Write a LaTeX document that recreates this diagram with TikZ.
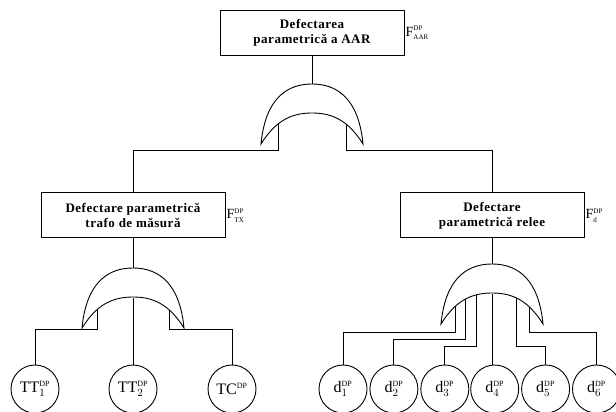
\documentclass[tikz,border=0pt]{standalone}
\usepackage{fontspec}
\setmainfont{Liberation Serif}
\usepackage{tikz}
\usetikzlibrary{positioning}
\pgfdeclarelayer{background}
\pgfsetlayers{background,main}

\tikzset{
  orgate/.pic={
    \draw[gateline] (-51,0) .. controls (-47,42) and (-28,60) .. (0,60)
      .. controls (28,60) and (47,42) .. (51,0)
      .. controls (36,24) and (20,31) .. (0,31)
      .. controls (-20,31) and (-36,24) .. (-51,0) -- cycle;
    \coordinate (-top) at (0,60);
    \coordinate (-in) at (0,30);
  }
}
\newcommand{\ssc}[1]{{\scriptscriptstyle\mathrm{#1}}}

\begin{document}
\begin{tikzpicture}[x=1pt, y=1pt,
    box/.style={draw, line width=1pt, minimum width=184pt, minimum height=45pt,
      align=center, inner sep=2pt,
      font=\fontsize{13}{15}\selectfont\bfseries\addfontfeature{LetterSpace=4}},
    event/.style={draw, circle, line width=0.9pt, minimum size=48pt, inner sep=0pt,
      font=\fontsize{16}{18}\selectfont},
    flabel/.style={right, inner sep=1pt, font=\fontsize{14}{16}\selectfont},
    gateline/.style={fill=white, line width=0.9pt},
    wire/.style={line width=0.9pt}]
    \useasboundingbox (0,0) rectangle (616,412);

    % Events (boxes)
    \node[box] (aar) at (312,379) {Defectarea\\parametrică a AAR};
    \node[box] (tx) at (133,196.5) {Defectare parametrică\\trafo de măsură};
    \node[box] (rel) at (492,196.5) {Defectare\\parametrică relee};

    \node[flabel] (faar) at (aar.east) {$\mathrm{F}^{\ssc{DP}}_{\ssc{AAR}}$};
    \node[flabel] (ftx) at (tx.east) {$\mathrm{F}^{\ssc{DP}}_{\ssc{TX}}$};
    \node[flabel] (frel) at (rel.east) {$\mathrm{F}^{\ssc{DP}}_{\ssc{d}}$};

    % OR gates
    \pic (gaar) at (312,268) {orgate};
    \pic (gtx) at (133,84) {orgate};
    \pic (grel) at (492,88) {orgate};

    % Basic events
    \node[event] (tt1) at (35,23) {$\mathrm{TT}_1^{\ssc{DP}}$};
    \node[event] (tt2) at (133,23) {$\mathrm{TT}_2^{\ssc{DP}}$};
    \node[event] (tc) at (232,23) {$\mathrm{TC}^{\ssc{DP}}$};

    \node[event] (d1) at (343,23) {$\mathrm{d}_1^{\ssc{DP}}$};
    \node[event, right=2pt of d1] (d2) {$\mathrm{d}_2^{\ssc{DP}}$};
    \node[event, right=2pt of d2] (d3) {$\mathrm{d}_3^{\ssc{DP}}$};
    \node[event, right=1pt of d3] (d4) {$\mathrm{d}_4^{\ssc{DP}}$};
    \node[event, right=2pt of d4] (d5) {$\mathrm{d}_5^{\ssc{DP}}$};
    \node[event, right=2pt of d5] (d6) {$\mathrm{d}_6^{\ssc{DP}}$};

    % Connectors
    \begin{pgfonlayer}{background}
      \draw[wire] (aar) -- (gaar-top);
      \draw[wire] ([xshift=-34pt]gaar-in) -- ++(0,-36) -| (tx);
      \draw[wire] ([xshift=34pt]gaar-in) -- ++(0,-36) -| (rel);

      \draw[wire] (tx) -- (gtx-top);
      \draw[wire] ([xshift=-36pt]gtx-in) -- ++(0,-31) -| (tt1);
      \draw[wire] (gtx-in) -- (tt2);
      \draw[wire] ([xshift=36pt]gtx-in) -- ++(0,-31) -| (tc);

      \draw[wire] (rel) -- (grel-top);
      \draw[wire] ([xshift=-37pt]grel-in) -- ++(0,-38) -| (d1);
      \draw[wire] ([xshift=-27pt]grel-in) -- ++(0,-45) -| (d2);
      \draw[wire] ([xshift=-16pt]grel-in) -- ++(0,-52) -| (d3);
      \draw[wire] (grel-in) -- (grel-in |- d4.north);
      \draw[wire] ([xshift=24pt]grel-in) -- ++(0,-52) -| (d5);
      \draw[wire] ([xshift=37pt]grel-in) -- ++(0,-38) -| (d6);
    \end{pgfonlayer}
\end{tikzpicture}
\end{document}
